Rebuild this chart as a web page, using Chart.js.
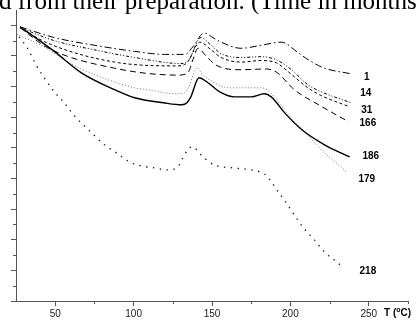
<!DOCTYPE html>
<html>
<head>
<meta charset="utf-8">
<script src="https://cdn.jsdelivr.net/npm/chart.js@4.4.1/dist/chart.umd.min.js"></script>
<style>
  html, body { margin: 0; padding: 0; background: #fff; }
  #wrap { position: relative; width: 417px; height: 322px; overflow: hidden; background: #fff; }
  #c { position: absolute; left: 0; top: 0; }
  #hdr { position: absolute; left: -1px; top: -12px; font: 25px "Liberation Serif", "Times New Roman", serif; line-height: 25px; white-space: nowrap; color: #000; }
  #xt { position: absolute; left: 384px; top: 307px; font: bold 10px "Liberation Sans", Arial, sans-serif; line-height: 12px; white-space: nowrap; color: #000; }
  #xt sup { font-size: 7px; vertical-align: 0; position: relative; top: -4px; }
</style>
</head>
<body>
<div id="wrap">
  <canvas id="c" width="417" height="322"></canvas>
  <div id="hdr">d from their preparation. (Time in months</div>
  <div id="xt">T (<sup>o</sup>C)</div>
</div>
<script>
// ---- data ----
const seriesNames = ['1', '14', '31', '166', '186', '179', '218'];

const T_1   = [27.6, 49.4, 75.0, 100.6, 119.9, 132.7, 137.8, 144.9, 150.6, 155.8, 168.6, 181.4, 194.2, 205.1, 211.4, 221.8, 237.8];
const V_1   = [17.9, 17.2, 16.7, 16.3, 16.1, 16.1, 16.6, 17.5, 17.2, 16.9, 16.5, 16.7, 16.9, 16.2, 15.75, 15.2, 14.85];

const T_14  = [27.6, 49.4, 75.0, 100.6, 130.8, 135.3, 142.9, 149.4, 155.8, 168.6, 181.4, 191.0, 200.6, 211.4, 219.9, 238.5];
const V_14  = [17.85, 17.0, 16.4, 15.9, 15.5, 15.75, 17.2, 16.7, 16.15, 15.9, 15.95, 15.75, 15.1, 14.1, 13.65, 12.95];

const T_31  = [27.6, 44.9, 87.8, 128.2, 134.0, 142.3, 149.4, 155.8, 168.6, 181.4, 191.0, 200.6, 211.4, 219.9, 237.2];
const V_31  = [17.85, 16.85, 15.6, 15.35, 15.55, 16.9, 16.4, 15.9, 15.6, 15.7, 15.55, 14.8, 13.9, 13.4, 12.7];

const T_166 = [27.6, 44.9, 87.8, 128.2, 134.6, 137.8, 141.0, 146.2, 152.6, 168.6, 184.6, 191.0, 202.5, 219.9, 237.2];
const V_166 = [17.85, 16.55, 15.2, 14.75, 14.9, 15.75, 16.5, 16.0, 15.4, 15.1, 15.15, 14.95, 13.8, 12.7, 11.7];

const T_186 = [27.6, 49.4, 66.7, 87.8, 100.6, 119.2, 130.8, 134.0, 136.5, 141.7, 147.4, 155.8, 164.1, 175.0, 183.3, 187.8, 196.2, 207.1, 221.8, 237.8];
const V_186 = [17.9, 16.3, 14.9, 13.8, 13.27, 12.94, 12.81, 12.94, 13.33, 14.58, 14.25, 13.6, 13.33, 13.33, 13.53, 13.33, 12.3, 11.2, 10.2, 9.41];

const T_179 = [25.6, 42.9, 55.8, 66.7, 100.6, 109.0, 126.3, 132.7, 135.3, 140.4, 144.2, 153.8, 162.2, 175.0, 181.4, 185.9, 198.7, 208.9, 221.8, 235.9];
const V_179 = [17.4, 16.6, 15.75, 15.15, 13.92, 13.8, 13.53, 13.6, 14.0, 15.23, 14.77, 14.12, 13.92, 13.92, 13.92, 13.73, 12.16, 11.05, 9.67, 8.43];

const T_218 = [26.9, 32.1, 37.8, 42.9, 49.4, 55.8, 62.2, 69.9, 81.4, 89.1, 97.4, 105.1, 113.5, 121.2, 128.2, 131.4, 134.6, 137.2, 144.2, 151.3, 163.5, 175.0, 183.3, 186.5, 192.3, 197.4, 202.5, 208.3, 215.3, 221.8, 229.5, 234.0];
const V_218 = [17.25, 16.54, 15.42, 14.58, 13.66, 12.94, 12.09, 11.31, 10.2, 9.67, 9.08, 8.82, 8.69, 8.56, 8.76, 9.35, 9.87, 10.07, 9.41, 8.89, 8.69, 8.56, 8.3, 7.97, 7.12, 6.41, 5.62, 4.77, 3.99, 3.2, 2.55, 2.16];

const xTickLabels = [50, 100, 150, 200, 250];

// label anchors (data units) for the series names at the right
const labelAnchorT = [248.7, 248.1, 248.7, 249.4, 251.3, 248.7, 249.4];
const labelAnchorV = [14.58, 13.59, 12.48, 11.63, 9.48, 7.97, 1.96];

// ---- styling ----
const styles = [
  { color: '#000', width: 1,   dash: [7, 3, 1.5, 3] },
  { color: '#000', width: 1,   dash: [3, 2, 1, 2, 1, 2] },
  { color: '#000', width: 1,   dash: [3, 2.5] },
  { color: '#000', width: 1,   dash: [6, 4] },
  { color: '#000', width: 1.4, dash: [] },
  { color: '#777', width: 1,   dash: [1, 2] },
  { color: '#222', width: 1.4, dash: [1.4, 5.5] }
];

const Ts = [T_1, T_14, T_31, T_166, T_186, T_179, T_218];
const Vs = [V_1, V_14, V_31, V_166, V_186, V_179, V_218];

const datasets = seriesNames.map((name, k) => ({
  label: name,
  data: Ts[k].map((t, i) => ({ x: t, y: Vs[k][i] })),
  borderColor: styles[k].color,
  borderWidth: styles[k].width,
  borderDash: styles[k].dash,
  pointRadius: 0,
  fill: false,
  cubicInterpolationMode: 'monotone'
}));

const AXIS = '#555';

const extras = {
  id: 'extras',
  afterDraw(chart) {
    const ctx = chart.ctx, xs = chart.scales.x, ys = chart.scales.y;
    ctx.save();
    ctx.strokeStyle = AXIS;
    ctx.lineWidth = 1;
    // minor y ticks
    for (let v = 1; v < 19; v += 2) {
      const py = Math.round(ys.getPixelForValue(v)) + 0.5;
      ctx.beginPath(); ctx.moveTo(xs.left - 3, py); ctx.lineTo(xs.left, py); ctx.stroke();
    }
    // minor x ticks
    for (let v = 75; v <= 275; v += 50) {
      const px = Math.round(xs.getPixelForValue(v)) + 0.5;
      ctx.beginPath(); ctx.moveTo(px, ys.bottom); ctx.lineTo(px, ys.bottom + 3); ctx.stroke();
    }
    // series names
    ctx.fillStyle = '#000';
    ctx.font = 'bold 10px "Liberation Sans", Arial, sans-serif';
    ctx.textAlign = 'center';
    ctx.textBaseline = 'middle';
    seriesNames.forEach((n, k) => {
      ctx.fillText(n, xs.getPixelForValue(labelAnchorT[k]), ys.getPixelForValue(labelAnchorV[k]));
    });
    ctx.restore();
  }
};

new Chart(document.getElementById('c'), {
  type: 'line',
  data: { datasets },
  options: {
    responsive: false,
    devicePixelRatio: 1,
    animation: false,
    events: [],
    layout: { padding: { top: 10, right: 9, left: 0, bottom: 0 } },
    plugins: { legend: { display: false }, tooltip: { enabled: false } },
    scales: {
      x: {
        type: 'linear', min: 25, max: 275,
        afterFit: s => { s.height = 21; },
        border: { display: true, color: AXIS, width: 1 },
        grid: {
          drawOnChartArea: false, drawTicks: true, tickLength: 5,
          tickColor: c => (xTickLabels.includes(c.tick.value) ? AXIS : 'rgba(0,0,0,0)')
        },
        ticks: {
          stepSize: 25, autoSkip: false, maxRotation: 0, padding: 2,
          color: '#222',
          font: { family: '"Liberation Sans", Arial, sans-serif', size: 10 },
          callback: v => (xTickLabels.includes(v) ? String(v) : '')
        }
      },
      y: {
        type: 'linear', min: 0, max: 19,
        afterFit: s => { s.width = 16; },
        border: { display: true, color: AXIS, width: 1 },
        grid: {
          drawOnChartArea: false, drawTicks: true, tickLength: 5,
          tickColor: c => (c.tick.value % 2 === 0 ? AXIS : 'rgba(0,0,0,0)')
        },
        ticks: { display: false, stepSize: 1 }
      }
    }
  },
  plugins: [extras]
});
</script>
</body>
</html>
